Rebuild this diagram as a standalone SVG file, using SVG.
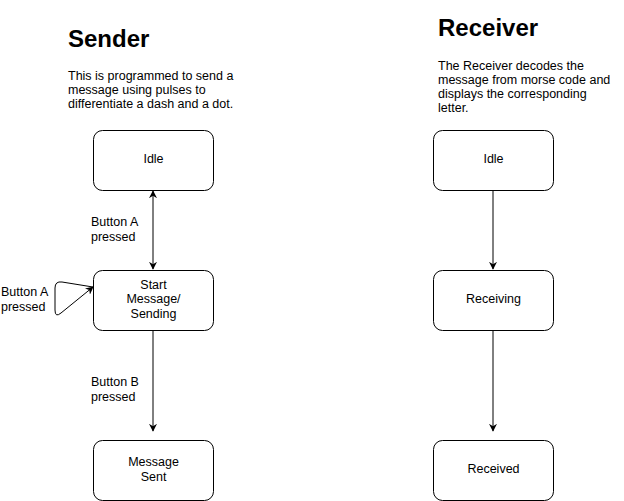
<svg xmlns="http://www.w3.org/2000/svg" width="624" height="501" viewBox="0 0 624 501">
<defs>
<marker id="ah" viewBox="0 0 10 10" refX="9" refY="5" markerWidth="8" markerHeight="8" orient="auto-start-reverse" markerUnits="userSpaceOnUse">
<path d="M0,0 L10,5 L0,10 L3,5 Z" fill="#000"/>
</marker>
<style>
.box{fill:#fff;stroke:#000;stroke-width:1}
.t{font-family:"Liberation Sans",Arial,sans-serif;font-size:12.5px;fill:#000}
.c{text-anchor:middle}
.h{font-family:"Liberation Sans",Arial,sans-serif;font-size:24px;font-weight:bold;fill:#000}
.e{fill:none;stroke:#000;stroke-width:1}
</style>
</defs>
<rect width="624" height="501" fill="#fff"/>
<g id="sender-title">
<text class="h" x="68" y="47">Sender</text>
<text class="t" x="68" y="80">This is programmed to send a</text>
<text class="t" x="68" y="94">message using pulses to</text>
<text class="t" x="68" y="108">differentiate a dash and a dot.</text>
</g>
<g id="receiver-title">
<text class="h" x="438" y="36">Receiver</text>
<text class="t" x="438" y="70">The Receiver decodes the</text>
<text class="t" x="438" y="84">message from morse code and</text>
<text class="t" x="438" y="98">displays the corresponding</text>
<text class="t" x="438" y="112">letter.</text>
</g>
<g id="connectors">
<line class="e" x1="153" y1="191" x2="153" y2="269" marker-start="url(#ah)" marker-end="url(#ah)"/>
<line class="e" x1="153" y1="330" x2="153" y2="431" marker-end="url(#ah)"/>
<path class="e" d="M93,287 L62,282 Q55,281 55,288 L55,310 Q55,318 61,313 L93,287" marker-end="url(#ah)"/>
<line class="e" x1="493" y1="190" x2="493" y2="269" marker-end="url(#ah)"/>
<line class="e" x1="493" y1="330" x2="493" y2="431" marker-end="url(#ah)"/>
<text class="t" x="91" y="226">Button A</text>
<text class="t" x="91" y="241">pressed</text>
<text class="t" x="1" y="296">Button A</text>
<text class="t" x="1" y="311">pressed</text>
<text class="t" x="91" y="386">Button B</text>
<text class="t" x="91" y="401">pressed</text>
</g>
<g id="s-idle">
<rect class="box" x="93.5" y="130.5" width="120" height="60" rx="9"/>
<text class="t c" x="153.5" y="163">Idle</text>
</g>
<g id="s-start">
<rect class="box" x="93.5" y="270.5" width="120" height="60" rx="9"/>
<text class="t c" x="153.5" y="289">Start</text>
<text class="t c" x="153.5" y="303">Message/</text>
<text class="t c" x="153.5" y="318">Sending</text>
</g>
<g id="s-sent">
<rect class="box" x="93.5" y="440.5" width="120" height="60" rx="9"/>
<text class="t c" x="153.5" y="466">Message</text>
<text class="t c" x="153.5" y="481">Sent</text>
</g>
<g id="r-idle">
<rect class="box" x="433.5" y="130.5" width="120" height="60" rx="9"/>
<text class="t c" x="493.5" y="163">Idle</text>
</g>
<g id="r-receiving">
<rect class="box" x="433.5" y="270.5" width="120" height="60" rx="9"/>
<text class="t c" x="493.5" y="303">Receiving</text>
</g>
<g id="r-received">
<rect class="box" x="433.5" y="440.5" width="120" height="60" rx="9"/>
<text class="t c" x="493.5" y="473">Received</text>
</g>
</svg>
